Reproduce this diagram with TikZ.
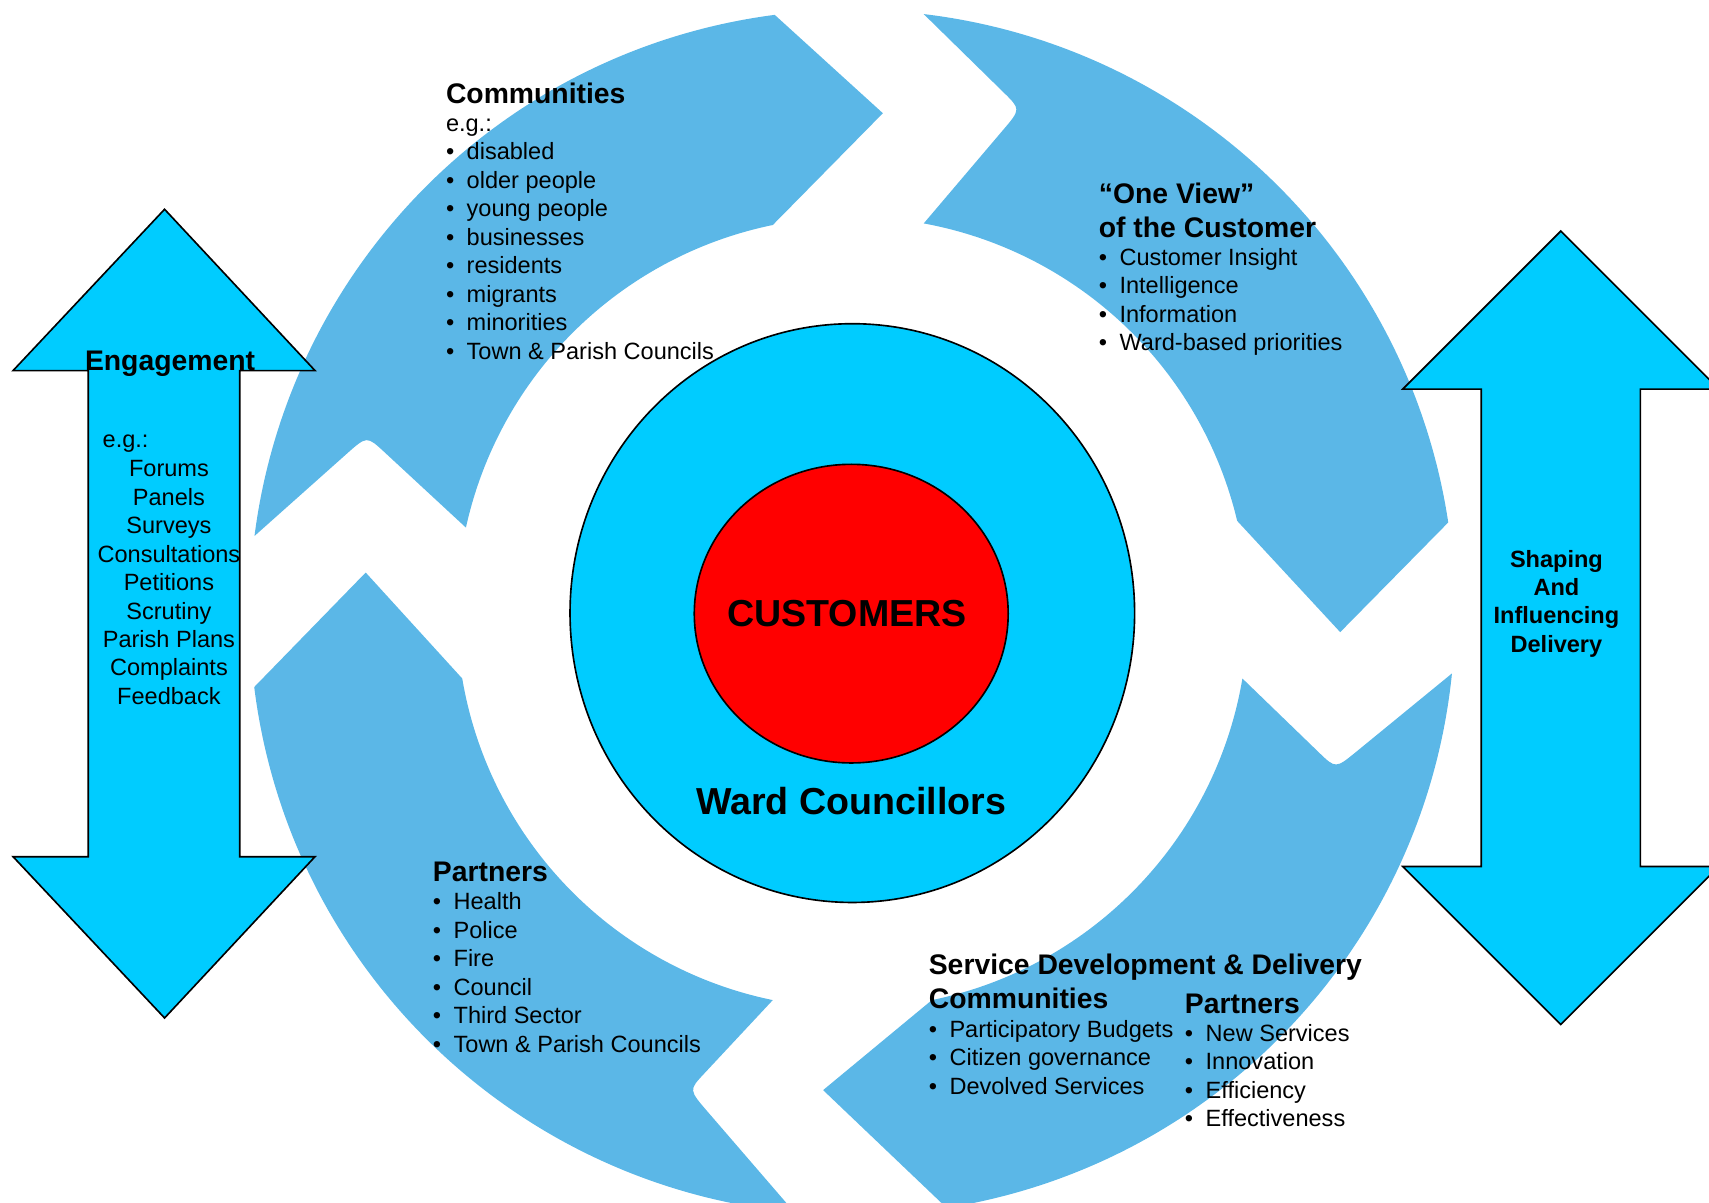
\documentclass[tikz,border=0pt]{standalone}
\usepackage{fontspec}
\setmainfont{Liberation Sans}
\usetikzlibrary{calc}
\definecolor{ringblue}{RGB}{91,183,231}
\definecolor{skycyan}{RGB}{0,204,255}
\definecolor{custred}{RGB}{255,0,0}
\newcommand\mybul[1]{\makebox[19pt][l]{\textbullet}#1}
\begin{document}
\begin{tikzpicture}[x=1pt,y=-1pt,
  listtxt/.style={font={\fontsize{21.6}{26}\selectfont}, inner sep=0pt, anchor=base west},
  listc/.style={font={\fontsize{21.6}{26}\selectfont}, inner sep=0pt, anchor=base},
  headtxt/.style={font={\fontsize{26}{31}\selectfont\bfseries}, inner sep=0pt, anchor=base west},
  shapetxt/.style={font={\fontsize{21.6}{26}\selectfont\bfseries}, inner sep=0pt, anchor=base},
  bigtxt/.style={font={\fontsize{34.5}{40}\selectfont\bfseries}, inner sep=0pt, anchor=base},
  ringarrow/.style={fill=ringblue},
  dblarrow/.style={draw=black, line width=1.5pt, fill=skycyan, line join=miter},
  disc/.style={draw=black, line width=1.5pt}]
\useasboundingbox (0,0) rectangle (1568,1103);
\clip (0,0) rectangle (1568,1103);
\coordinate (C) at (782,562);
% ---- top-left arrow (Communities)
\coordinate (aTO) at ($(C)+(-172.7:553)$);
\coordinate (aTip) at ($(C)+(-86.5:459)$);
\coordinate (aHI) at ($(C)+(-101.6:363)$);
\coordinate (aTI) at ($(C)+(-167.6:363)$);
\coordinate (aN) at ($(C)+(-160:474)$);
\fill[ringarrow] (aTO) arc[start angle=-172.7, end angle=-97.4, radius=553] -- (aTip) -- (aHI)
  arc[start angle=-101.6, end angle=-167.6, radius=363] -- ($(aN)!0.18!(aTI)$) .. controls (aN) .. ($(aN)!0.18!(aTO)$) -- cycle;
% ---- top-right arrow (One View)
\coordinate (bTO) at ($(C)+(-83.2:553)$);
\coordinate (bTip) at ($(C)+(2.3:448)$);
\coordinate (bHI) at ($(C)+(-13.4:363)$);
\coordinate (bTI) at ($(C)+(-79.6:363)$);
\coordinate (bN) at ($(C)+(-71.5:487)$);
\fill[ringarrow] (bTO) arc[start angle=-83.2, end angle=-8.6, radius=553] -- (bTip) -- (bHI)
  arc[start angle=-13.4, end angle=-79.6, radius=363] -- ($(bN)!0.18!(bTI)$) .. controls (bN) .. ($(bN)!0.18!(bTO)$) -- cycle;
% ---- bottom-right arrow (Service)
\coordinate (dTO) at ($(C)+(5.8:553)$);
\coordinate (dTip) at ($(C)+(93.5:439)$);
\coordinate (dHI) at ($(C)+(78.4:363)$);
\coordinate (dTI) at ($(C)+(9.6:363)$);
\coordinate (dN) at ($(C)+(17.9:466)$);
\fill[ringarrow] (dTO) arc[start angle=5.8, end angle=81, radius=553] -- (dTip) -- (dHI)
  arc[start angle=78.4, end angle=9.6, radius=363] -- ($(dN)!0.18!(dTI)$) .. controls (dN) .. ($(dN)!0.18!(dTO)$) -- cycle;
% ---- bottom-left arrow (Partners)
\coordinate (eTO) at ($(C)+(95.5:553)$);
\coordinate (eTip) at ($(C)+(184.7:448)$);
\coordinate (eHI) at ($(C)+(170.4:363)$);
\coordinate (eTI) at ($(C)+(101.6:363)$);
\coordinate (eN) at ($(C)+(108.9:463)$);
\fill[ringarrow] (eTO) arc[start angle=95.5, end angle=172.9, radius=553] -- (eTip) -- (eHI)
  arc[start angle=170.4, end angle=101.6, radius=363] -- ($(eN)!0.18!(eTI)$) .. controls (eN) .. ($(eN)!0.18!(eTO)$) -- cycle;
% ---- central discs
\draw[disc, fill=skycyan] (782,562.5) ellipse [x radius=259, y radius=265.5];
\draw[disc, fill=custred] (781,563) ellipse [x radius=144, y radius=137];
% ---- double arrows
\draw[dblarrow] (151,192) -- (289,340) -- (220,340) -- (220,786) -- (289,786) -- (151,934)
  -- (12,786) -- (81,786) -- (81,340) -- (12,340) -- cycle;
\draw[dblarrow] (1432,212) -- (1577,357) -- (1505,357) -- (1505,795) -- (1577,795) -- (1432,940)
  -- (1287,795) -- (1359,795) -- (1359,357) -- (1287,357) -- cycle;
% ---- texts: Communities
\node[headtxt] (comh) at (409,94.5) {Communities};
\node[listtxt] (comeg) at (409,120.5) {e.g.:};
\foreach \t [count=\i] in {disabled,older people,young people,businesses,residents,migrants,minorities,Town \& Parish Councils}
  \node[listtxt] (com\i) at (409,{146.5+(\i-1)*26.15}) {\mybul{\t}};
% ---- One View
\node[headtxt] (ovh1) at (1008,186.5) {“One View”};
\node[headtxt] (ovh2) at (1008,217.5) {of the Customer};
\foreach \t [count=\i] in {Customer Insight,Intelligence,Information,Ward-based priorities}
  \node[listtxt] (ov\i) at (1008,{243.5+(\i-1)*26}) {\mybul{\t}};
% ---- Partners
\node[headtxt] (parh) at (397,808.5) {Partners};
\foreach \t [count=\i] in {Health,Police,Fire,Council,Third Sector,Town \& Parish Councils}
  \node[listtxt] (par\i) at (397,{834.5+(\i-1)*26.2}) {\mybul{\t}};
% ---- Service Development & Delivery
\node[headtxt] (sdh) at (852,894.5) {Service Development \& Delivery};
\node[headtxt] (sdch) at (852,925.5) {Communities};
\foreach \t [count=\i] in {Participatory Budgets,Citizen governance,Devolved Services}
  \node[listtxt] (sdc\i) at (852,{951.5+(\i-1)*26.5}) {\mybul{\t}};
\node[headtxt] (sdph) at (1087,929.5) {Partners};
\foreach \t [count=\i] in {New Services,Innovation,Efficiency,Effectiveness}
  \node[listtxt] (sdp\i) at (1087,{955.5+(\i-1)*26}) {\mybul{\t}};
% ---- Engagement
\node[headtxt, anchor=base] (engh) at (156,339.5) {Engagement};
\node[listtxt] (engeg) at (94,410.5) {e.g.:};
\foreach \t [count=\i] in {Forums,Panels,Surveys,Consultations,Petitions,Scrutiny,Parish Plans,Complaints,Feedback}
  \node[listc] (eng\i) at (155,{437.5+(\i-1)*26.1}) {\t};
% ---- Shaping
\foreach \t [count=\i] in {Shaping,And,Influencing,Delivery}
  \node[shapetxt] (shp\i) at (1428,{520.5+(\i-1)*26}) {\t};
% ---- centre
\node[bigtxt] (custxt) at (777,575) {CUSTOMERS};
\node[bigtxt] (wardtxt) at (781,747) {Ward Councillors};
\end{tikzpicture}
\end{document}
